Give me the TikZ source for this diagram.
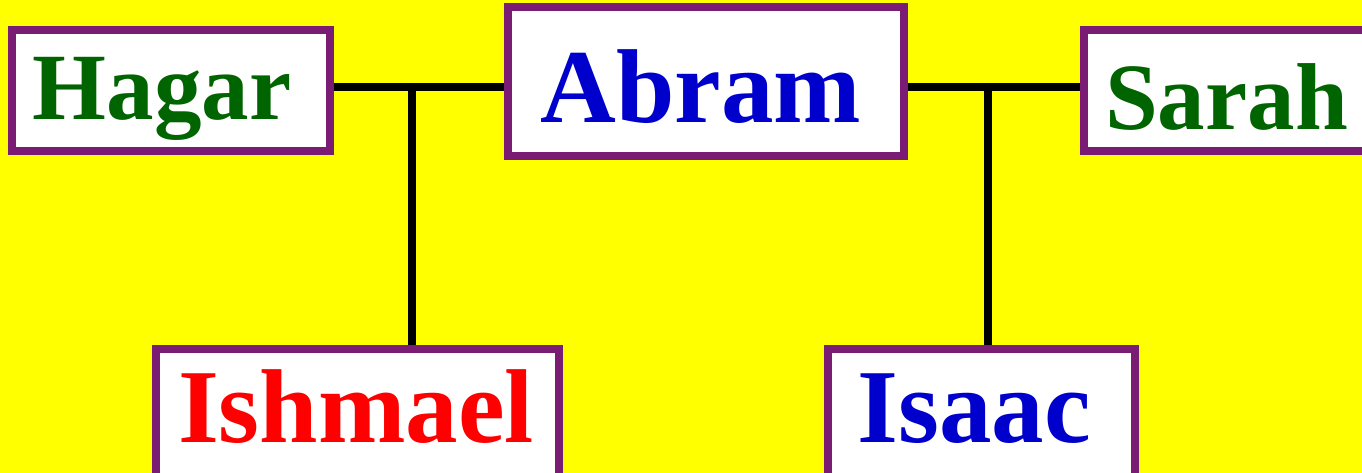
\documentclass[tikz,border=0pt]{standalone}
\usepackage{fontspec}
\setmainfont{Liberation Serif}
\definecolor{bgyellow}{RGB}{255,255,0}
\definecolor{boxpurple}{RGB}{122,28,116}
\definecolor{dkgreen}{RGB}{0,100,0}
\definecolor{nameblue}{RGB}{0,0,204}
\definecolor{namered}{RGB}{255,0,0}
\begin{document}
\begin{tikzpicture}[x=1pt,y=-1pt,
  famillybox/.style={draw=boxpurple, fill=white, line width=8pt, rectangle, inner sep=0pt},
  namebig/.style={anchor=base, inner sep=0pt, font=\fontsize{105}{105}\selectfont\bfseries},
  namemid/.style={anchor=base, inner sep=0pt, font=\fontsize{95}{95}\selectfont\bfseries},
  tie/.style={draw=black, line width=7.5pt}]
\useasboundingbox (0,0) rectangle (1362,473);
\fill[bgyellow] (0,0) rectangle (1362,473);
% junctions
\coordinate (j1) at (412,87);
\coordinate (j2) at (988,87);
% boxes
\node[famillybox, minimum width=318pt, minimum height=121pt] (hagar) at (171,90.5) {};
\node[famillybox, minimum width=396pt, minimum height=149pt] (abram) at (706,81.5) {};
\node[famillybox, minimum width=316pt, minimum height=121pt] (sarah) at (1242,90.5) {};
\node[famillybox, minimum width=403pt, minimum height=151pt] (ishmael) at (357.5,424.5) {};
\node[famillybox, minimum width=307pt, minimum height=151pt] (isaac) at (981.5,424.5) {};
% connectors
\draw[tie] (hagar.east |- j1) -- (abram.west |- j1);
\draw[tie] (abram.east |- j2) -- (sarah.west |- j2);
\draw[tie] (j1) -- (j1 |- ishmael.north);
\draw[tie] (j2) -- (j2 |- isaac.north);
% texts
\node[namemid, text=dkgreen] (thagar) at (162,120) {Hagar};
\node[namebig, text=nameblue] (tabram) at (701,123) {Abram};
\node[namemid, text=dkgreen] (tsarah) at (1226.5,129.5) {Sarah};
\node[namebig, text=namered] (tishmael) at (356,442) {Ishmael};
\node[namebig, text=nameblue] (tisaac) at (974,442) {Isaac};
\end{tikzpicture}
\end{document}
